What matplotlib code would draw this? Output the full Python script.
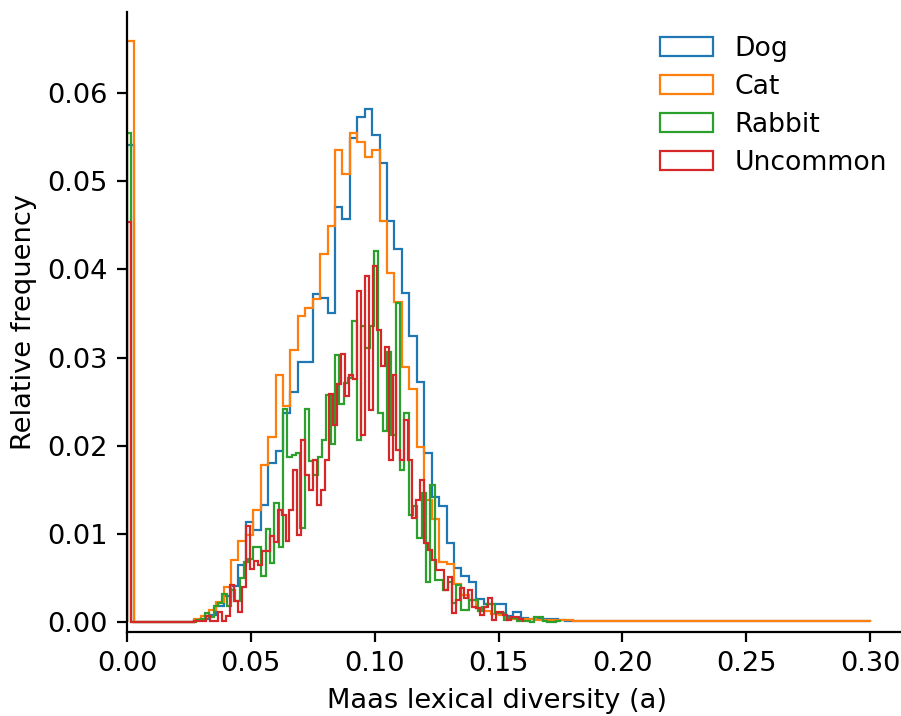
import numpy as np
import matplotlib
matplotlib.use("Agg")
import matplotlib.pyplot as plt
from matplotlib.ticker import FormatStrFormatter

# ===== data (relative frequency per bin) =====

labels = ["Dog", "Cat", "Rabbit", "Uncommon"]
colors = ["#1f77b4", "#ff7f0e", "#2ca02c", "#d62728"]

# Dog / Cat: 100 bins on [0, 0.30]
dog_max = 0.30
dog_freq = [
    0.0541, 0, 0, 0, 0, 0, 0, 0, 0, 0.0002,
    0.0003, 0.0008, 0.0018, 0.0030, 0.0041, 0.0065, 0.0114, 0.0104, 0.0133, 0.0180,
    0.0194, 0.0237, 0.0261, 0.0295, 0.0295, 0.0372, 0.0368, 0.0351, 0.0471, 0.0457,
    0.0549, 0.0573, 0.0582, 0.0553, 0.0521, 0.0455, 0.0423, 0.0373, 0.0324, 0.0272,
    0.0192, 0.0142, 0.0132, 0.0090, 0.0061, 0.0052, 0.0045, 0.0026, 0.0020, 0.0020,
    0.0020, 0.0007, 0.0011, 0.0005, 0.0004, 0.0003, 0.0003, 0.0003, 0.0002, 0.0001,
    0.0001, 0.0001, 0.0001, 0.0001, 0.0001, 0.0001, 0.0001, 0.0001, 0.0001, 0.0001,
    0.0001, 0.0001, 0.0001, 0.0001, 0.0001, 0.0001, 0.0001, 0.0001, 0.0001, 0.0001,
    0.0001, 0.0001, 0.0001, 0.0001, 0.0001, 0.0001, 0.0001, 0.0001, 0.0001, 0.0001,
    0.0001, 0.0001, 0.0001, 0.0001, 0.0001, 0.0001, 0.0001, 0.0001, 0.0001, 0.0001,
]

cat_max = 0.30
cat_freq = [
    0.0659, 0, 0, 0, 0, 0, 0, 0, 0, 0.0003,
    0.0007, 0.0014, 0.0023, 0.0040, 0.0070, 0.0092, 0.0099, 0.0127, 0.0178, 0.0210,
    0.0280, 0.0245, 0.0309, 0.0347, 0.0356, 0.0367, 0.0417, 0.0449, 0.0535, 0.0508,
    0.0555, 0.0544, 0.0527, 0.0535, 0.0455, 0.0396, 0.0363, 0.0289, 0.0264, 0.0198,
    0.0138, 0.0117, 0.0068, 0.0066, 0.0043, 0.0031, 0.0025, 0.0016, 0.0013, 0.0009,
    0.0008, 0.0004, 0.0004, 0.0003, 0.0003, 0.0002, 0.0002, 0.0002, 0.0002, 0.0002,
    0.0001, 0.0001, 0.0001, 0.0001, 0.0001, 0.0001, 0.0001, 0.0001, 0.0001, 0.0001,
    0.0001, 0.0001, 0.0001, 0.0001, 0.0001, 0.0001, 0.0001, 0.0001, 0.0001, 0.0001,
    0.0001, 0.0001, 0.0001, 0.0001, 0.0001, 0.0001, 0.0001, 0.0001, 0.0001, 0.0001,
    0.0001, 0.0001, 0.0001, 0.0001, 0.0001, 0.0001, 0.0001, 0.0001, 0.0001, 0.0001,
]

# Rabbit: 100 bins on [0, 0.175]
rabbit_max = 0.175
rabbit_freq = [
    0.0555, 0, 0, 0, 0, 0, 0, 0, 0, 0,
    0, 0, 0, 0, 0, 0, 0.0002, 0.0003, 0.0010, 0.0006,
    0.0018, 0.0022, 0.0032, 0.0018, 0.0036, 0.0024, 0.0050, 0.0068, 0.0071, 0.0085,
    0.0085, 0.0052, 0.0105, 0.0067, 0.0135, 0.0085, 0.0242, 0.0187, 0.0190, 0.0192,
    0.0107, 0.0242, 0.0183, 0.0167, 0.0187, 0.0206, 0.0257, 0.0202, 0.0303, 0.0247,
    0.0271, 0.0277, 0.0341, 0.0206, 0.0336, 0.0311, 0.0336, 0.0421, 0.0237, 0.0217,
    0.0306, 0.0212, 0.0362, 0.0172, 0.0237, 0.0121, 0.0132, 0.0095, 0.0146, 0.0045,
    0.0155, 0.0048, 0.0048, 0.0036, 0.0045, 0.0022, 0.0042, 0.0014, 0.0014, 0.0025,
    0.0025, 0.0012, 0.0017, 0.0021, 0.0021, 0.0010, 0.0010, 0.0002, 0.0005, 0.0005,
    0.0001, 0.0001, 0.0001, 0.0000, 0.0006, 0.0006, 0.0001, 0.0000, 0.0000, 0.0001,
]

# Uncommon: 100 bins on [0, 0.16]
uncommon_max = 0.16
uncommon_freq = [
    0.0454, 0, 0, 0, 0, 0, 0, 0, 0, 0,
    0, 0, 0, 0, 0, 0, 0, 0.0001, 0.0001, 0.0001,
    0.0007, 0.0001, 0.0001, 0.0011, 0.0001, 0.0007, 0.0042, 0.0024, 0.0011, 0.0040,
    0.0109, 0.0060, 0.0069, 0.0065, 0.0081, 0.0081, 0.0098, 0.0091, 0.0127, 0.0121,
    0.0092, 0.0127, 0.0172, 0.0099, 0.0206, 0.0167, 0.0150, 0.0184, 0.0133, 0.0150,
    0.0184, 0.0259, 0.0223, 0.0270, 0.0304, 0.0256, 0.0280, 0.0276, 0.0375, 0.0212,
    0.0392, 0.0240, 0.0404, 0.0331, 0.0291, 0.0312, 0.0184, 0.0280, 0.0195, 0.0184,
    0.0229, 0.0184, 0.0118, 0.0138, 0.0161, 0.0090, 0.0082, 0.0070, 0.0059, 0.0059,
    0.0036, 0.0051, 0.0010, 0.0025, 0.0039, 0.0027, 0.0036, 0.0017, 0.0016, 0.0008,
    0.0017, 0.0027, 0.0002, 0.0011, 0.0011, 0.0008, 0.0002, 0.0006, 0.0006, 0.0003,
]

series = [
    (dog_freq, dog_max),
    (cat_freq, cat_max),
    (rabbit_freq, rabbit_max),
    (uncommon_freq, uncommon_max),
]

# ===== plot =====

plt.rcParams["font.family"] = ["DejaVu Sans"]
plt.rcParams["font.size"] = 9.8

DPI = 200
fig = plt.figure(figsize=(901 / DPI, 716 / DPI), dpi=DPI)
ax = fig.add_axes([127 / 901, 84 / 716, 774 / 901, 620 / 716])

for (freq, vmax), lab, col in zip(series, labels, colors):
    edges = np.linspace(0, vmax, len(freq) + 1)
    ax.hist(edges[:-1], bins=edges, weights=freq, histtype="step",
            color=col, label=lab, linewidth=0.8)

ax.set_xlim(0, 0.3125)
ax.set_ylim(-0.00113, 0.0692)
ax.set_xticks([0.0, 0.05, 0.10, 0.15, 0.20, 0.25, 0.30])
ax.set_yticks([0.0, 0.01, 0.02, 0.03, 0.04, 0.05, 0.06])
ax.xaxis.set_major_formatter(FormatStrFormatter("%.2f"))
ax.yaxis.set_major_formatter(FormatStrFormatter("%.2f"))

ax.spines["top"].set_visible(False)
ax.spines["right"].set_visible(False)

ax.set_xlabel("Maas lexical diversity (a)")
ax.set_ylabel("Relative frequency")
ax.xaxis.set_label_coords(0.478, -0.09)
ax.yaxis.set_label_coords(-0.116, 0.5)

ax.legend(loc="upper right", frameon=False, bbox_to_anchor=(1.013, 1.0),
          fontsize=9.6, labelspacing=0.45)

fig.savefig("out.png", dpi=DPI)
